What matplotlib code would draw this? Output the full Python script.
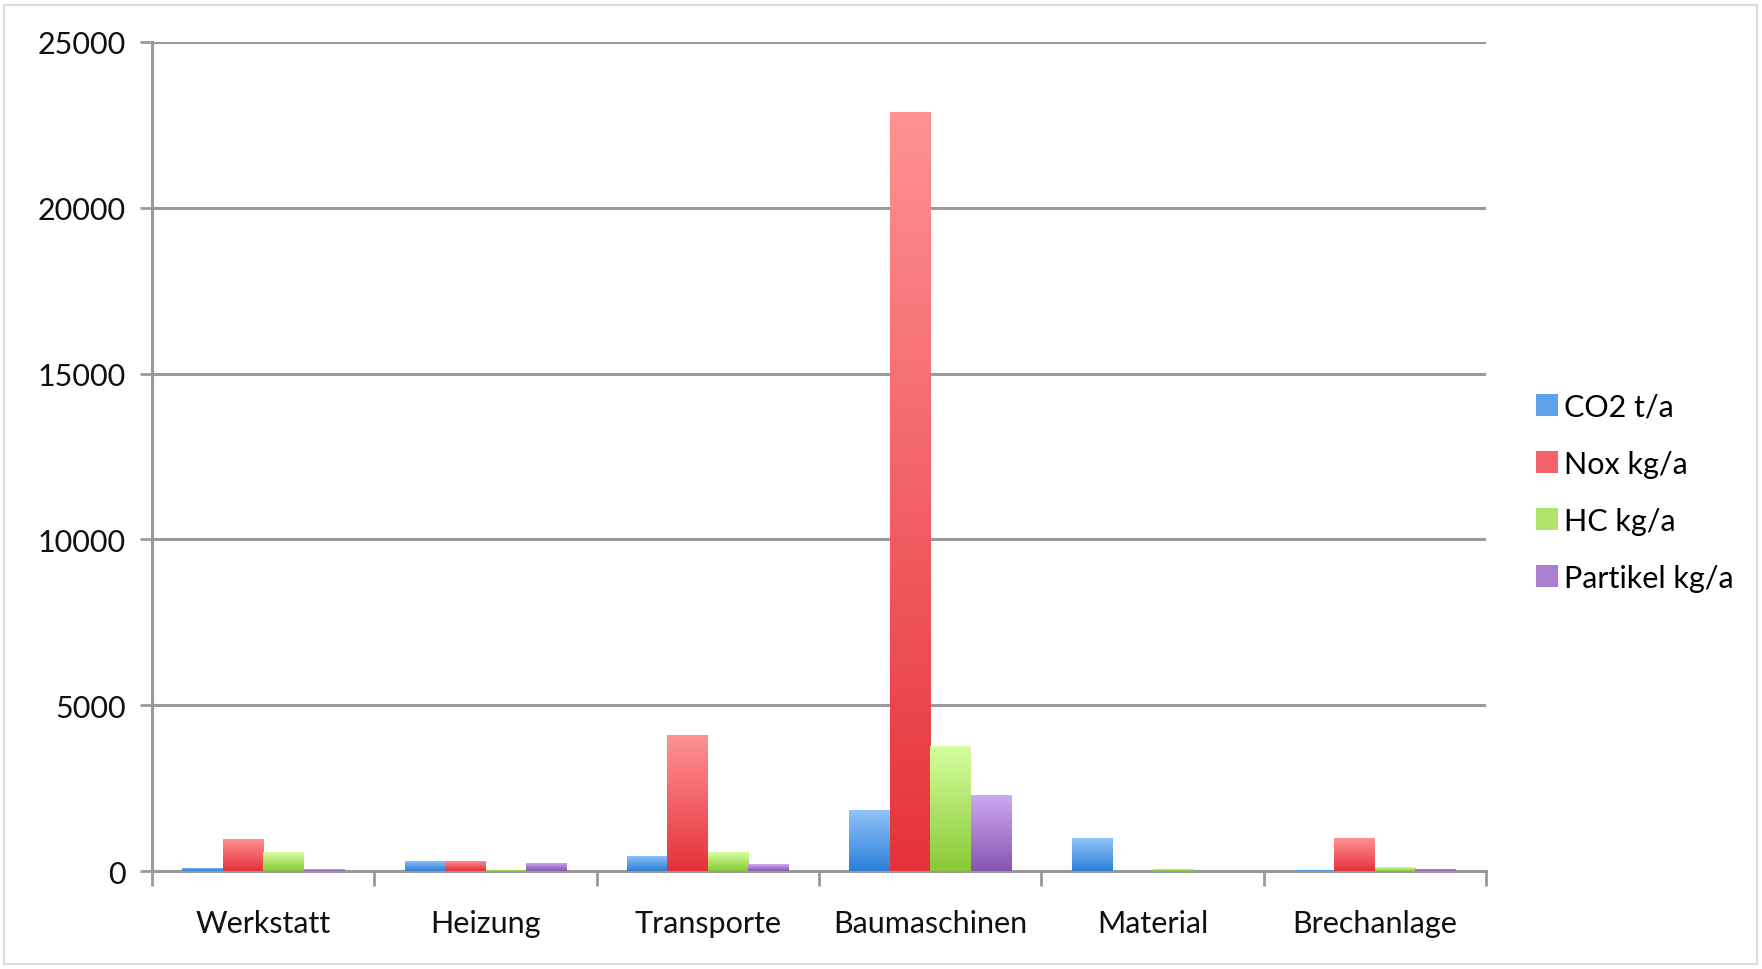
import numpy as np
import matplotlib
matplotlib.use('Agg')
import matplotlib.pyplot as plt
from matplotlib.colors import LinearSegmentedColormap
from matplotlib.patches import Rectangle

plt.rcParams['font.family'] = ['Lato', 'DejaVu Sans']

# Data
categories = ['Werkstatt', 'Heizung', 'Transporte', 'Baumaschinen', 'Material', 'Brechanlage']
series_names = ['CO2 t/a', 'Nox kg/a', 'HC kg/a', 'Partikel kg/a']
co2 = [105, 316, 453, 1850, 985, 30]
nox = [980, 316, 4090, 22880, 10, 985]
hc = [560, 40, 560, 3780, 70, 120]
partikel = [53, 242, 210, 2300, 0, 70]
y_ticks = [0, 5000, 10000, 15000, 20000, 25000]

# gradient (top colour, bottom colour) per series
gradients = [('#93c4fa', '#2b7fd8'),
             ('#ff9294', '#e5323a'),
             ('#d6ffa0', '#88c936'),
             ('#cfaaf0', '#8755b2')]

fig = plt.figure(figsize=(17.62, 9.70), dpi=100)
ax = fig.add_axes([0.0863, 0.101, 0.7571, 0.8547])

x = np.arange(len(categories))
width = 0.182
values = [co2, nox, hc, partikel]

grad = np.linspace(1, 0, 256).reshape(-1, 1)
for i, (vals, (top, bottom)) in enumerate(zip(values, gradients)):
    offs = (i - 1.5) * width
    bars = ax.bar(x + offs, vals, width, color='none', edgecolor='none', zorder=3)
    cmap = LinearSegmentedColormap.from_list('g%d' % i, [bottom, top])
    for b in bars:
        h = b.get_height()
        if h <= 0:
            continue
        x0 = b.get_x()
        im = ax.imshow(grad, cmap=cmap, aspect='auto', zorder=3,
                       extent=[x0, x0 + width, 0, h], origin='upper',
                       vmin=0, vmax=1)
        im.set_clip_path(b)
    # legend handle in the middle tone of the gradient
    ax.bar([np.nan], [0], color=cmap(0.5), label=series_names[i])

ax.set_xlim(-0.5, len(categories) - 0.5)
ax.set_ylim(0, 25000)

# grid and axes styling
ax.set_yticks(y_ticks)
ax.set_yticklabels([str(v) for v in y_ticks], fontsize=22, color='#111111')
ax.yaxis.grid(True, color='#9a9a9a', linewidth=2.2, zorder=0)
ax.tick_params(axis='y', length=9, width=2, color='#9a9a9a', pad=10)
ax.set_xticks(x)
ax.set_xticklabels(categories, fontsize=22, color='#111111')
ax.set_xticks(np.arange(len(categories) + 1) - 0.5, minor=True)
ax.tick_params(axis='x', which='major', length=0, pad=27)
ax.tick_params(axis='x', which='minor', length=11, width=2, color='#9a9a9a')
for side in ['top', 'right']:
    ax.spines[side].set_visible(False)
for side in ['left', 'bottom']:
    ax.spines[side].set_color('#9a9a9a')
    ax.spines[side].set_linewidth(2.2)
ax.set_axisbelow(True)

leg = ax.legend(loc='center left', bbox_to_anchor=(1.017, 0.457), frameon=False,
                fontsize=22, handlelength=0.7, handleheight=0.7, handletextpad=0.2,
                labelspacing=0.95)

# light frame around the whole chart
fig.patches.append(Rectangle((0.002, 0.005), 0.995, 0.989, transform=fig.transFigure,
                             fill=False, edgecolor='#dcdcdc', linewidth=1.5))

fig.savefig('out.png', dpi=100)
